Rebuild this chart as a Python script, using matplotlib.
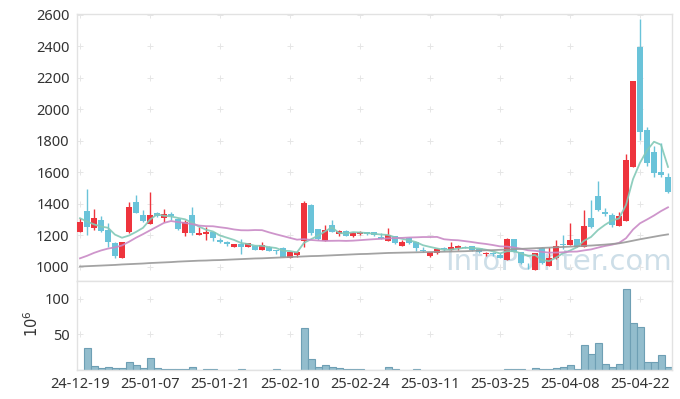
import matplotlib
matplotlib.use("Agg")
import matplotlib.pyplot as plt
import numpy as np
import pandas as pd

plt.rcParams['font.family'] = ['Noto Sans', 'DejaVu Sans']

# ---------------- data ----------------
tick_idx = [0, 10, 20, 30, 40, 50, 60, 70, 80]
tick_labels = ["24-12-19", "25-01-07", "25-01-21", "25-02-10", "25-02-24",
               "25-03-11", "25-03-25", "25-04-08", "25-04-22"]

opens = [1224, 1356, 1250, 1298, 1235, 1154, 1059, 1220, 1411, 1330,
         1273, 1341, 1313, 1335, 1303, 1214, 1330, 1205, 1208, 1224,
         1171, 1161, 1129, 1146, 1129, 1133, 1108, 1129, 1108, 1119,
         1055, 1076, 1167, 1394, 1239, 1167, 1267, 1210, 1229, 1199,
         1210, 1224, 1220, 1193, 1167, 1197, 1135, 1182, 1157, 1108,
         1072, 1087, 1119, 1108, 1123, 1129, 1133, 1114, 1080, 1087,
         1076, 1044, 1178, 1093, 1002, 981, 1119, 1006, 1055, 1146,
         1140, 1176, 1125, 1309, 1451, 1349, 1330, 1262, 1294, 1637,
         2399, 1870, 1732, 1605, 1570]
highs = [1309, 1493, 1366, 1324, 1277, 1161, 1161, 1415, 1457, 1362,
         1474, 1351, 1366, 1351, 1310, 1298, 1383, 1256, 1256, 1224,
         1182, 1167, 1144, 1178, 1150, 1140, 1161, 1135, 1108, 1125,
         1097, 1102, 1419, 1400, 1239, 1267, 1298, 1235, 1235, 1224,
         1229, 1224, 1224, 1214, 1245, 1197, 1171, 1188, 1157, 1125,
         1097, 1119, 1129, 1157, 1140, 1135, 1133, 1114, 1097, 1097,
         1087, 1182, 1178, 1097, 1023, 1090, 1125, 1125, 1171, 1203,
         1277, 1176, 1362, 1425, 1548, 1373, 1341, 1351, 1718, 2183,
         2573, 1887, 1768, 1789, 1599]
lows = [1224, 1203, 1235, 1224, 1129, 1055, 1055, 1214, 1341, 1284,
        1273, 1319, 1288, 1298, 1235, 1197, 1203, 1205, 1171, 1167,
        1154, 1133, 1129, 1081, 1125, 1108, 1108, 1100, 1083, 1065,
        1055, 1065, 1125, 1203, 1171, 1167, 1224, 1199, 1199, 1188,
        1205, 1205, 1199, 1178, 1167, 1144, 1135, 1146, 1104, 1093,
        1065, 1083, 1104, 1108, 1108, 1119, 1104, 1090, 1070, 1070,
        1055, 1044, 1093, 1019, 985, 981, 1019, 1006, 1049, 1114,
        1140, 1125, 1125, 1245, 1357, 1324, 1252, 1262, 1294, 1633,
        1808, 1643, 1570, 1570, 1472]
closes = [1288, 1256, 1309, 1231, 1161, 1070, 1157, 1379, 1345, 1292,
          1330, 1324, 1335, 1324, 1243, 1288, 1214, 1214, 1224, 1186,
          1161, 1144, 1144, 1129, 1150, 1108, 1140, 1104, 1100, 1065,
          1097, 1097, 1408, 1214, 1176, 1235, 1224, 1229, 1199, 1218,
          1224, 1208, 1203, 1178, 1203, 1150, 1161, 1154, 1123, 1102,
          1097, 1112, 1112, 1129, 1133, 1123, 1108, 1093, 1091, 1080,
          1059, 1178, 1093, 1023, 998, 1087, 1023, 1055, 1133, 1140,
          1171, 1129, 1260, 1252, 1362, 1335, 1267, 1324, 1679, 2183,
          1855, 1660, 1599, 1584, 1478]
volumes = [0.5, 30.7, 5.2, 2.4, 3.8, 2.4, 2.4, 10.8, 6.6, 2.4,
           16.5, 2.4, 1.0, 1.0, 1.0, 1.0, 3.8, 0.3, 1.0, 1.0,
           0.3, 0.3, 0.3, 1.0, 0.2, 0.2, 0.2, 0.2, 1.0, 0.2,
           0.2, 0.2, 59.0, 15.0, 3.8, 6.6, 3.8, 2.4, 1.4, 1.4,
           1.4, 0.3, 0.3, 0.3, 3.8, 1.4, 0.3, 0.3, 1.4, 0.2,
           0.2, 0.2, 0.2, 0.2, 0.2, 0.2, 0.2, 0.2, 0.2, 0.2,
           0.3, 1.4, 1.4, 1.4, 0.3, 2.8, 1.4, 1.4, 2.4, 3.8,
           6.6, 1.4, 34.9, 22.6, 37.7, 8.0, 3.8, 8.0, 114.0, 66.0,
           60.0, 10.8, 10.8, 20.8, 3.8]
# closes before the first visible day (inferred from the moving-average lines)
prior_closes = [940, 935, 925, 920, 915, 915, 913, 830, 840, 850,
                850, 856, 1090, 1380, 1393, 1360, 1400, 1300, 1200]
# long moving average (grey line)
ma_long = [1003, 1005, 1007, 1009, 1011, 1013, 1016, 1018, 1020, 1022,
           1025, 1027, 1029, 1031, 1034, 1036, 1038, 1040, 1041, 1043,
           1044, 1046, 1048, 1050, 1052, 1054, 1055, 1057, 1059, 1061,
           1063, 1065, 1067, 1069, 1070, 1072, 1074, 1076, 1078, 1080,
           1082, 1083, 1085, 1087, 1089, 1090, 1091, 1092, 1093, 1094,
           1095, 1096, 1097, 1098, 1099, 1100, 1102, 1104, 1106, 1107,
           1109, 1111, 1113, 1115, 1117, 1119, 1121, 1123, 1125, 1127,
           1129, 1131, 1134, 1136, 1139, 1142, 1146, 1150, 1158, 1167,
           1176, 1184, 1192, 1200, 1207]

# ---------------- derived ----------------
n = len(closes)
x = np.arange(n)
o = np.array(opens, float)
c = np.array(closes, float)
h = np.array(highs, float)
l = np.array(lows, float)
allc = pd.Series(prior_closes + closes, dtype=float)
ma5 = allc.rolling(5).mean().iloc[len(prior_closes):].to_numpy()
ma20 = allc.rolling(20).mean().iloc[len(prior_closes):].to_numpy()

UP = '#ee343d'
DOWN = '#6ac3d9'
cols = np.where(c >= o, UP, DOWN)

W, H = 680, 399
fig = plt.figure(figsize=(W / 100, H / 100), dpi=100)
L, R = 76.5, 671.5
ax = fig.add_axes([L / W, (H - 281) / H, (R - L) / W, 267 / H])
axv = fig.add_axes([L / W, (H - 370) / H, (R - L) / W, 89 / H], sharex=ax)

spine_col = '#e2e2e2'
cross_col = '#e6e6e6'
text_col = '#333333'

# faint crosses at grid intersections
for xt in tick_idx:
    for yt in range(1000, 2601, 200):
        ax.plot(xt, yt, marker='+', ms=4.5, mew=0.7, color=cross_col, zorder=1)
    for yt in (50, 100):
        axv.plot(xt, yt, marker='+', ms=4.5, mew=0.7, color=cross_col, zorder=1)

# watermark
ax.text(445 / W, (H - 270) / H, 'InfoPointer.com', transform=fig.transFigure,
        fontsize=21, color='#c5d9e4', alpha=0.85, ha='left', va='baseline',
        family='DejaVu Sans', zorder=0.5)

# candles
ax.vlines(x, l, h, colors=cols, linewidth=1.0, zorder=2)
body = np.maximum(np.abs(c - o), 4)
ax.bar(x, body, bottom=np.minimum(o, c), width=0.72, color=cols, linewidth=0, zorder=3)

# moving averages
ax.plot(x, ma5, color='#83c9b7', lw=1.3, alpha=0.9, zorder=4)
ax.plot(x, ma20, color='#c98ac6', lw=1.3, alpha=0.9, zorder=4)
ax.plot(x, ma_long, color='#999999', lw=1.3, alpha=0.9, zorder=4)

ax.set_xlim(-0.5, n - 0.5)
ax.set_ylim(911, 2606)
ax.set_yticks(range(1000, 2601, 200))
ax.tick_params(axis='both', length=0, labelsize=10.5, colors=text_col, pad=5)
ax.tick_params(axis='x', labelbottom=False)

# volume
axv.bar(x, volumes, width=1.0, color='#93bdcd', edgecolor='#6e9fb4', linewidth=0.8, zorder=2)
axv.set_ylim(0, 125)
axv.set_yticks([50, 100])
axv.set_xticks(tick_idx)
axv.set_xticklabels(tick_labels)
axv.tick_params(axis='both', length=0, labelsize=10.5, colors=text_col, pad=5)

for a in (ax, axv):
    for s in a.spines.values():
        s.set_color(spine_col)
        s.set_linewidth(1.0)

fig.text(33 / W, 1 - 324 / H, r'$10^6$', rotation=90, ha='center', va='center',
         fontsize=10.5, color=text_col)

fig.savefig('out.png', dpi=100, facecolor='white')
